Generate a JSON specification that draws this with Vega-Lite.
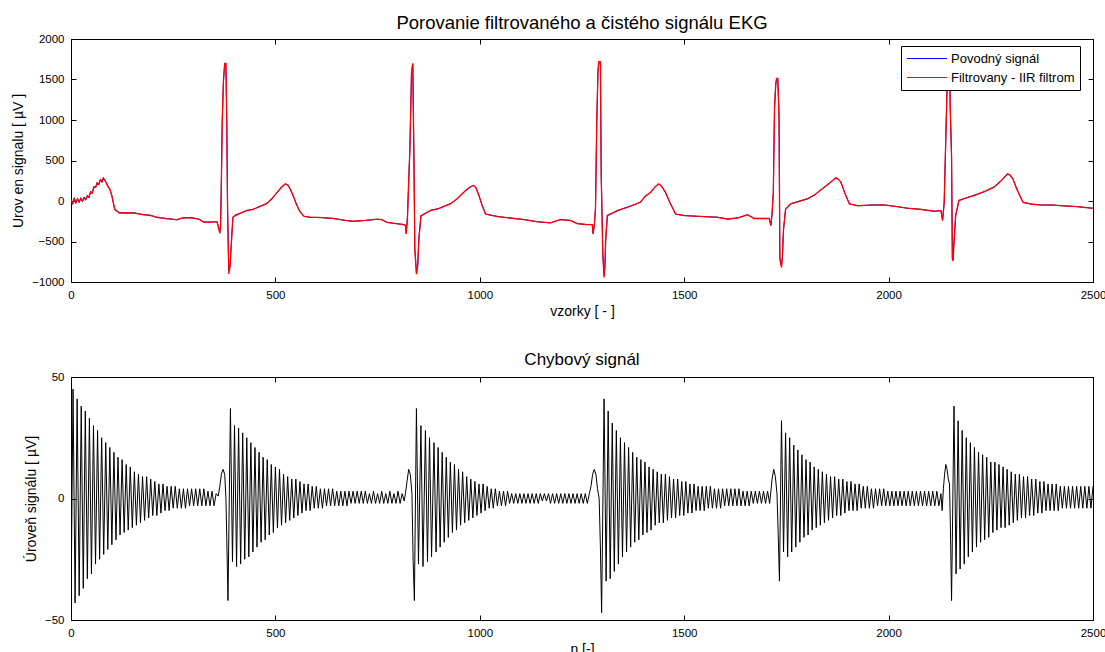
{
"$schema":"https://vega.github.io/schema/vega-lite/v6.json",
"padding":{"left":11,"top":13,"right":0,"bottom":0},
"spacing":31,
"config":{"font":"Liberation Sans","view":{"stroke":"black","strokeWidth":1},
"axis":{"domainColor":"black","tickColor":"black","labelColor":"black","titleColor":"black","labelFont":"Liberation Sans","titleFont":"Liberation Sans","labelFontSize":11.5,"titleFontSize":14,"titleFontWeight":"normal","grid":false,"tickSize":-5,"labelPadding":12,"labelFlush":false,"titlePadding":6,"format":"d"},
"title":{"font":"Liberation Sans","fontSize":17,"fontWeight":"normal","color":"black","frame":"group","anchor":"middle"}},
"datasets":{
"ecg":[
{"n":0,"o":35,"f":20},{"n":4,"o":-40,"f":-30},{"n":8,"o":40,"f":30},{"n":12,"o":-30,"f":-20},{"n":16,"o":30,"f":25},{"n":20,"o":-20,"f":-10},{"n":24,"o":40,"f":30},{"n":28,"o":-10,"f":0},{"n":32,"o":50,"f":40},{"n":36,"o":10,"f":20},{"n":40,"o":70,"f":60},{"n":44,"o":40,"f":50},{"n":48,"o":120,"f":110},{"n":52,"o":90,"f":100},{"n":56,"o":180,"f":170},{"n":60,"o":160,"f":170},{"n":64,"o":230,"f":220},{"n":68,"o":200,"f":210},{"n":72,"o":270,"f":260},{"n":76,"o":230,"f":240},{"n":79,"o":290,"f":280},{"n":84,"o":245,"f":250},{"n":90,"o":190,"f":180},{"n":95,"o":140,"f":150},{"n":100,"o":70,"f":60},{"n":107,"o":-110,"f":-100},{"n":118,"o":-140,"f":-150},{"n":133,"o":-150,"f":-145},{"n":153,"o":-142,"f":-150},{"n":175,"o":-170,"f":-165},{"n":195,"o":-175,"f":-180},{"n":210,"o":-205,"f":-200},{"n":235,"o":-215,"f":-220},{"n":259,"o":-233,"f":-230},{"n":270,"o":-212,"f":-215},{"n":279,"o":-208,"f":-205},{"n":295,"o":-206,"f":-210},{"n":312,"o":-223,"f":-220},{"n":324,"o":-258,"f":-260},{"n":340,"o":-262,"f":-260},{"n":357,"o":-255,"f":-255},{"n":361,"o":-320,"f":-330},{"n":364,"o":-390,"f":-400},{"n":366,"o":-300,"f":-300},{"n":368,"o":290,"f":300},{"n":370,"o":980,"f":1000},{"n":373,"o":1480,"f":1500},{"n":376,"o":1690,"f":1700},{"n":379,"o":1680,"f":1700},{"n":381,"o":1000,"f":1000},{"n":383,"o":-90,"f":-100},{"n":386,"o":-860,"f":-900},{"n":389,"o":-810,"f":-800},{"n":392,"o":-540,"f":-550},{"n":396,"o":-210,"f":-200},{"n":402,"o":-170,"f":-180},{"n":414,"o":-155,"f":-150},{"n":430,"o":-115,"f":-120},{"n":446,"o":-105,"f":-100},{"n":462,"o":-65,"f":-70},{"n":479,"o":-35,"f":-30},{"n":492,"o":35,"f":30},{"n":503,"o":95,"f":100},{"n":515,"o":175,"f":170},{"n":524,"o":212,"f":210},{"n":530,"o":198,"f":200},{"n":536,"o":155,"f":150},{"n":544,"o":55,"f":60},{"n":552,"o":-45,"f":-50},{"n":560,"o":-135,"f":-130},{"n":570,"o":-188,"f":-190},{"n":585,"o":-203,"f":-200},{"n":610,"o":-202,"f":-205},{"n":642,"o":-217,"f":-215},{"n":670,"o":-238,"f":-240},{"n":691,"o":-252,"f":-250},{"n":720,"o":-240,"f":-240},{"n":748,"o":-227,"f":-225},{"n":760,"o":-228,"f":-230},{"n":773,"o":-265,"f":-263},{"n":795,"o":-278,"f":-280},{"n":814,"o":-290,"f":-292},{"n":818,"o":-300,"f":-300},{"n":820,"o":-400,"f":-408},{"n":823,"o":-210,"f":-200},{"n":826,"o":220,"f":233},{"n":829,"o":640,"f":646},{"n":833,"o":1580,"f":1596},{"n":836,"o":1690,"f":1699},{"n":839,"o":490,"f":481},{"n":841,"o":-580,"f":-594},{"n":845,"o":-880,"f":-903},{"n":848,"o":-810,"f":-800},{"n":851,"o":-460,"f":-470},{"n":856,"o":-190,"f":-181},{"n":879,"o":-115,"f":-119},{"n":900,"o":-94,"f":-90},{"n":928,"o":-32,"f":-36},{"n":945,"o":26,"f":30},{"n":961,"o":113,"f":109},{"n":975,"o":166,"f":170},{"n":984,"o":193,"f":191},{"n":990,"o":172,"f":170},{"n":998,"o":63,"f":67},{"n":1006,"o":-56,"f":-60},{"n":1014,"o":-163,"f":-160},{"n":1043,"o":-190,"f":-193},{"n":1075,"o":-212,"f":-210},{"n":1108,"o":-228,"f":-230},{"n":1140,"o":-256,"f":-255},{"n":1173,"o":-270,"f":-271},{"n":1187,"o":-246,"f":-245},{"n":1197,"o":-229,"f":-230},{"n":1222,"o":-241,"f":-240},{"n":1238,"o":-278,"f":-280},{"n":1260,"o":-291,"f":-290},{"n":1275,"o":-290,"f":-292},{"n":1277,"o":-400,"f":-408},{"n":1280,"o":-310,"f":-300},{"n":1283,"o":-90,"f":-98},{"n":1286,"o":920,"f":934},{"n":1289,"o":1590,"f":1600},{"n":1291,"o":1700,"f":1720},{"n":1295,"o":1710,"f":1720},{"n":1297,"o":330,"f":315},{"n":1301,"o":-660,"f":-677},{"n":1304,"o":-920,"f":-944},{"n":1306,"o":-810,"f":-800},{"n":1308,"o":-480,"f":-470},{"n":1312,"o":-175,"f":-181},{"n":1336,"o":-123,"f":-119},{"n":1360,"o":-76,"f":-80},{"n":1380,"o":-44,"f":-40},{"n":1393,"o":-12,"f":-15},{"n":1405,"o":64,"f":60},{"n":1418,"o":105,"f":109},{"n":1430,"o":184,"f":180},{"n":1438,"o":210,"f":212},{"n":1445,"o":183,"f":180},{"n":1454,"o":105,"f":109},{"n":1466,"o":-26,"f":-30},{"n":1479,"o":-163,"f":-160},{"n":1500,"o":-179,"f":-181},{"n":1540,"o":-192,"f":-190},{"n":1581,"o":-199,"f":-201},{"n":1606,"o":-223,"f":-222},{"n":1630,"o":-211,"f":-210},{"n":1655,"o":-170,"f":-168},{"n":1671,"o":-214,"f":-216},{"n":1690,"o":-217,"f":-216},{"n":1708,"o":-215,"f":-216},{"n":1712,"o":-300,"f":-304},{"n":1715,"o":-160,"f":-150},{"n":1718,"o":100,"f":109},{"n":1721,"o":1150,"f":1162},{"n":1724,"o":1440,"f":1450},{"n":1726,"o":1500,"f":1513},{"n":1729,"o":1505,"f":1513},{"n":1732,"o":1050,"f":1038},{"n":1734,"o":-700,"f":-718},{"n":1738,"o":-800,"f":-821},{"n":1740,"o":-710,"f":-700},{"n":1743,"o":-350,"f":-346},{"n":1748,"o":-102,"f":-98},{"n":1761,"o":-32,"f":-36},{"n":1802,"o":30,"f":26},{"n":1820,"o":76,"f":80},{"n":1838,"o":154,"f":150},{"n":1855,"o":216,"f":220},{"n":1871,"o":288,"f":286},{"n":1877,"o":268,"f":270},{"n":1883,"o":236,"f":233},{"n":1893,"o":96,"f":100},{"n":1904,"o":-32,"f":-36},{"n":1924,"o":-60,"f":-57},{"n":1960,"o":-48,"f":-50},{"n":1989,"o":-49,"f":-47},{"n":2020,"o":-68,"f":-70},{"n":2047,"o":-91,"f":-89},{"n":2080,"o":-103,"f":-105},{"n":2112,"o":-128,"f":-126},{"n":2128,"o":-117,"f":-119},{"n":2132,"o":-235,"f":-243},{"n":2136,"o":-25,"f":-15},{"n":2140,"o":780,"f":791},{"n":2143,"o":1390,"f":1400},{"n":2145,"o":1640,"f":1650},{"n":2149,"o":1630,"f":1650},{"n":2151,"o":1110,"f":1100},{"n":2154,"o":560,"f":543},{"n":2156,"o":-700,"f":-718},{"n":2158,"o":-720,"f":-740},{"n":2159,"o":-600,"f":-594},{"n":2164,"o":-185,"f":-181},{"n":2172,"o":9,"f":5},{"n":2190,"o":36,"f":40},{"n":2209,"o":71,"f":67},{"n":2235,"o":116,"f":120},{"n":2258,"o":175,"f":171},{"n":2275,"o":246,"f":250},{"n":2291,"o":332,"f":336},{"n":2297,"o":323,"f":320},{"n":2304,"o":270,"f":274},{"n":2315,"o":134,"f":130},{"n":2329,"o":-19,"f":-15},{"n":2350,"o":-37,"f":-40},{"n":2373,"o":-50,"f":-47},{"n":2400,"o":-48,"f":-50},{"n":2422,"o":-59,"f":-57},{"n":2460,"o":-68,"f":-70},{"n":2495,"o":-87,"f":-89},{"n":2500,"o":-90,"f":-89}
],
"err":[
{"n":0,"e":-45},{"n":5,"e":45},{"n":10,"e":-43},{"n":15,"e":41},{"n":20,"e":-40},{"n":25,"e":38},{"n":30,"e":-37},{"n":35,"e":36},{"n":40,"e":-33},{"n":45,"e":33},{"n":50,"e":-31},{"n":55,"e":30},{"n":60,"e":-27},{"n":65,"e":28},{"n":70,"e":-25},{"n":75,"e":25},{"n":80,"e":-23},{"n":85,"e":23},{"n":90,"e":-21},{"n":95,"e":21},{"n":100,"e":-19},{"n":105,"e":19},{"n":110,"e":-17},{"n":115,"e":17},{"n":120,"e":-15},{"n":125,"e":16},{"n":130,"e":-14},{"n":135,"e":14},{"n":140,"e":-13},{"n":145,"e":13},{"n":150,"e":-12},{"n":155,"e":11},{"n":160,"e":-11},{"n":165,"e":10},{"n":170,"e":-10},{"n":175,"e":9},{"n":180,"e":-9},{"n":185,"e":9},{"n":190,"e":-8},{"n":195,"e":8},{"n":200,"e":-7},{"n":205,"e":7},{"n":210,"e":-7},{"n":215,"e":6},{"n":220,"e":-6},{"n":225,"e":6},{"n":230,"e":-5},{"n":235,"e":5},{"n":240,"e":-5},{"n":245,"e":5},{"n":250,"e":-4},{"n":255,"e":5},{"n":260,"e":-4},{"n":265,"e":4},{"n":270,"e":-4},{"n":275,"e":4},{"n":280,"e":-4},{"n":285,"e":4},{"n":290,"e":-3},{"n":295,"e":4},{"n":300,"e":-3},{"n":305,"e":4},{"n":310,"e":-3},{"n":315,"e":4},{"n":320,"e":-3},{"n":325,"e":4},{"n":330,"e":-3},{"n":335,"e":3},{"n":340,"e":-3},{"n":345,"e":3},{"n":350,"e":-3},{"n":355,"e":2},{"n":360,"e":1},{"n":364,"e":5},{"n":368,"e":10},{"n":372,"e":12},{"n":376,"e":10},{"n":379,"e":0},{"n":381,"e":-16},{"n":384,"e":-42},{"n":390,"e":37},{"n":395,"e":-26},{"n":400,"e":30},{"n":405,"e":-28},{"n":410,"e":29},{"n":415,"e":-27},{"n":420,"e":27},{"n":425,"e":-25},{"n":430,"e":25},{"n":435,"e":-24},{"n":440,"e":23},{"n":445,"e":-22},{"n":450,"e":21},{"n":455,"e":-20},{"n":460,"e":19},{"n":465,"e":-18},{"n":470,"e":17},{"n":475,"e":-17},{"n":480,"e":16},{"n":485,"e":-15},{"n":490,"e":14},{"n":495,"e":-14},{"n":500,"e":13},{"n":505,"e":-12},{"n":510,"e":12},{"n":515,"e":-11},{"n":520,"e":10},{"n":525,"e":-10},{"n":530,"e":9},{"n":535,"e":-9},{"n":540,"e":8},{"n":545,"e":-8},{"n":550,"e":8},{"n":555,"e":-7},{"n":560,"e":7},{"n":565,"e":-6},{"n":570,"e":6},{"n":575,"e":-5},{"n":580,"e":6},{"n":585,"e":-5},{"n":590,"e":5},{"n":595,"e":-4},{"n":600,"e":5},{"n":605,"e":-4},{"n":610,"e":4},{"n":615,"e":-4},{"n":620,"e":4},{"n":625,"e":-3},{"n":630,"e":4},{"n":635,"e":-3},{"n":640,"e":4},{"n":645,"e":-3},{"n":650,"e":3},{"n":655,"e":-3},{"n":660,"e":3},{"n":665,"e":-3},{"n":670,"e":3},{"n":675,"e":-3},{"n":680,"e":3},{"n":685,"e":-2},{"n":690,"e":3},{"n":695,"e":-2},{"n":700,"e":3},{"n":705,"e":-2},{"n":710,"e":3},{"n":715,"e":-2},{"n":720,"e":3},{"n":725,"e":-2},{"n":730,"e":2},{"n":735,"e":-2},{"n":740,"e":3},{"n":745,"e":-2},{"n":750,"e":2},{"n":755,"e":-2},{"n":760,"e":3},{"n":765,"e":-2},{"n":770,"e":2},{"n":775,"e":-2},{"n":780,"e":3},{"n":785,"e":-2},{"n":790,"e":2},{"n":795,"e":-2},{"n":800,"e":3},{"n":805,"e":-2},{"n":810,"e":2},{"n":815,"e":-1},{"n":818,"e":2},{"n":822,"e":7},{"n":826,"e":12},{"n":830,"e":10},{"n":834,"e":2},{"n":837,"e":-26},{"n":840,"e":-42},{"n":845,"e":37},{"n":850,"e":-27},{"n":856,"e":30},{"n":861,"e":-28},{"n":867,"e":28},{"n":872,"e":-26},{"n":877,"e":25},{"n":882,"e":-24},{"n":888,"e":23},{"n":893,"e":-22},{"n":898,"e":21},{"n":903,"e":-20},{"n":908,"e":19},{"n":913,"e":-18},{"n":918,"e":17},{"n":923,"e":-16},{"n":928,"e":15},{"n":933,"e":-14},{"n":938,"e":14},{"n":943,"e":-13},{"n":948,"e":12},{"n":953,"e":-11},{"n":958,"e":11},{"n":963,"e":-10},{"n":968,"e":9},{"n":973,"e":-9},{"n":978,"e":8},{"n":983,"e":-8},{"n":988,"e":7},{"n":993,"e":-7},{"n":998,"e":6},{"n":1003,"e":-6},{"n":1008,"e":6},{"n":1013,"e":-5},{"n":1018,"e":5},{"n":1023,"e":-4},{"n":1028,"e":4},{"n":1033,"e":-4},{"n":1038,"e":4},{"n":1043,"e":-3},{"n":1048,"e":3},{"n":1053,"e":-3},{"n":1058,"e":3},{"n":1063,"e":-3},{"n":1068,"e":3},{"n":1073,"e":-2},{"n":1078,"e":2},{"n":1083,"e":-2},{"n":1088,"e":2},{"n":1093,"e":-2},{"n":1098,"e":2},{"n":1103,"e":-2},{"n":1108,"e":2},{"n":1113,"e":-2},{"n":1118,"e":2},{"n":1123,"e":-2},{"n":1128,"e":2},{"n":1133,"e":-2},{"n":1138,"e":2},{"n":1143,"e":-2},{"n":1148,"e":2},{"n":1153,"e":-1},{"n":1158,"e":2},{"n":1163,"e":-1},{"n":1168,"e":2},{"n":1173,"e":-2},{"n":1178,"e":2},{"n":1183,"e":-2},{"n":1188,"e":2},{"n":1193,"e":-2},{"n":1198,"e":2},{"n":1203,"e":-2},{"n":1208,"e":2},{"n":1213,"e":-2},{"n":1218,"e":2},{"n":1223,"e":-2},{"n":1228,"e":2},{"n":1233,"e":-2},{"n":1238,"e":2},{"n":1243,"e":-2},{"n":1248,"e":2},{"n":1253,"e":-2},{"n":1258,"e":2},{"n":1263,"e":-2},{"n":1268,"e":2},{"n":1272,"e":5},{"n":1276,"e":10},{"n":1280,"e":12},{"n":1284,"e":10},{"n":1288,"e":4},{"n":1292,"e":0},{"n":1295,"e":-20},{"n":1298,"e":-47},{"n":1304,"e":41},{"n":1309,"e":-34},{"n":1314,"e":36},{"n":1319,"e":-33},{"n":1324,"e":31},{"n":1329,"e":-30},{"n":1334,"e":28},{"n":1339,"e":-27},{"n":1344,"e":25},{"n":1349,"e":-24},{"n":1354,"e":23},{"n":1359,"e":-22},{"n":1364,"e":21},{"n":1369,"e":-20},{"n":1374,"e":19},{"n":1379,"e":-18},{"n":1384,"e":17},{"n":1389,"e":-17},{"n":1394,"e":16},{"n":1399,"e":-15},{"n":1404,"e":15},{"n":1409,"e":-14},{"n":1414,"e":13},{"n":1419,"e":-13},{"n":1424,"e":12},{"n":1429,"e":-11},{"n":1434,"e":11},{"n":1439,"e":-10},{"n":1444,"e":10},{"n":1449,"e":-10},{"n":1454,"e":10},{"n":1459,"e":-9},{"n":1464,"e":9},{"n":1469,"e":-8},{"n":1474,"e":8},{"n":1479,"e":-8},{"n":1484,"e":8},{"n":1489,"e":-7},{"n":1494,"e":7},{"n":1499,"e":-7},{"n":1504,"e":7},{"n":1509,"e":-6},{"n":1514,"e":6},{"n":1519,"e":-6},{"n":1524,"e":6},{"n":1529,"e":-5},{"n":1534,"e":5},{"n":1539,"e":-5},{"n":1544,"e":5},{"n":1549,"e":-5},{"n":1554,"e":5},{"n":1559,"e":-4},{"n":1564,"e":5},{"n":1569,"e":-4},{"n":1574,"e":4},{"n":1579,"e":-4},{"n":1584,"e":4},{"n":1589,"e":-4},{"n":1594,"e":4},{"n":1599,"e":-3},{"n":1604,"e":4},{"n":1609,"e":-3},{"n":1614,"e":4},{"n":1619,"e":-3},{"n":1624,"e":4},{"n":1629,"e":-3},{"n":1634,"e":4},{"n":1639,"e":-3},{"n":1644,"e":3},{"n":1649,"e":-3},{"n":1654,"e":3},{"n":1659,"e":-3},{"n":1664,"e":3},{"n":1669,"e":-2},{"n":1674,"e":3},{"n":1679,"e":-2},{"n":1684,"e":3},{"n":1689,"e":-2},{"n":1694,"e":3},{"n":1699,"e":-2},{"n":1704,"e":3},{"n":1709,"e":-2},{"n":1712,"e":3},{"n":1715,"e":8},{"n":1719,"e":12},{"n":1723,"e":9},{"n":1727,"e":2},{"n":1730,"e":-15},{"n":1733,"e":-34},{"n":1738,"e":32},{"n":1743,"e":-22},{"n":1748,"e":27},{"n":1753,"e":-24},{"n":1758,"e":25},{"n":1763,"e":-22},{"n":1768,"e":22},{"n":1773,"e":-20},{"n":1778,"e":20},{"n":1783,"e":-18},{"n":1788,"e":18},{"n":1793,"e":-16},{"n":1798,"e":16},{"n":1803,"e":-15},{"n":1808,"e":15},{"n":1813,"e":-13},{"n":1818,"e":13},{"n":1823,"e":-12},{"n":1828,"e":12},{"n":1833,"e":-11},{"n":1838,"e":11},{"n":1843,"e":-10},{"n":1848,"e":10},{"n":1853,"e":-9},{"n":1858,"e":9},{"n":1863,"e":-8},{"n":1868,"e":9},{"n":1873,"e":-7},{"n":1878,"e":8},{"n":1883,"e":-7},{"n":1888,"e":8},{"n":1893,"e":-6},{"n":1898,"e":7},{"n":1903,"e":-5},{"n":1908,"e":7},{"n":1913,"e":-5},{"n":1918,"e":6},{"n":1923,"e":-5},{"n":1928,"e":6},{"n":1933,"e":-4},{"n":1938,"e":5},{"n":1943,"e":-4},{"n":1948,"e":5},{"n":1953,"e":-4},{"n":1958,"e":4},{"n":1963,"e":-4},{"n":1968,"e":4},{"n":1973,"e":-3},{"n":1978,"e":4},{"n":1983,"e":-3},{"n":1988,"e":4},{"n":1993,"e":-3},{"n":1998,"e":3},{"n":2003,"e":-3},{"n":2008,"e":3},{"n":2013,"e":-3},{"n":2018,"e":3},{"n":2023,"e":-3},{"n":2028,"e":3},{"n":2033,"e":-3},{"n":2038,"e":3},{"n":2043,"e":-3},{"n":2048,"e":3},{"n":2053,"e":-3},{"n":2058,"e":3},{"n":2063,"e":-3},{"n":2068,"e":3},{"n":2073,"e":-3},{"n":2078,"e":3},{"n":2083,"e":-3},{"n":2088,"e":3},{"n":2093,"e":-3},{"n":2098,"e":3},{"n":2103,"e":-3},{"n":2108,"e":3},{"n":2113,"e":-3},{"n":2118,"e":3},{"n":2123,"e":-3},{"n":2128,"e":2},{"n":2131,"e":-5},{"n":2134,"e":4},{"n":2137,"e":10},{"n":2140,"e":14},{"n":2143,"e":12},{"n":2146,"e":8},{"n":2149,"e":6},{"n":2151,"e":-10},{"n":2154,"e":-42},{"n":2160,"e":38},{"n":2165,"e":-31},{"n":2170,"e":32},{"n":2175,"e":-29},{"n":2180,"e":28},{"n":2185,"e":-27},{"n":2190,"e":25},{"n":2195,"e":-24},{"n":2200,"e":23},{"n":2205,"e":-22},{"n":2210,"e":21},{"n":2215,"e":-20},{"n":2220,"e":19},{"n":2225,"e":-18},{"n":2230,"e":18},{"n":2235,"e":-17},{"n":2240,"e":17},{"n":2245,"e":-16},{"n":2250,"e":15},{"n":2255,"e":-14},{"n":2260,"e":15},{"n":2265,"e":-13},{"n":2270,"e":14},{"n":2275,"e":-12},{"n":2280,"e":13},{"n":2285,"e":-12},{"n":2290,"e":12},{"n":2295,"e":-11},{"n":2300,"e":11},{"n":2305,"e":-10},{"n":2310,"e":10},{"n":2315,"e":-9},{"n":2320,"e":10},{"n":2325,"e":-8},{"n":2330,"e":9},{"n":2335,"e":-8},{"n":2340,"e":9},{"n":2345,"e":-7},{"n":2350,"e":8},{"n":2355,"e":-7},{"n":2360,"e":8},{"n":2365,"e":-6},{"n":2370,"e":7},{"n":2375,"e":-6},{"n":2380,"e":7},{"n":2385,"e":-5},{"n":2390,"e":6},{"n":2395,"e":-5},{"n":2400,"e":6},{"n":2405,"e":-5},{"n":2410,"e":6},{"n":2415,"e":-5},{"n":2420,"e":5},{"n":2425,"e":-4},{"n":2430,"e":5},{"n":2435,"e":-4},{"n":2440,"e":5},{"n":2445,"e":-4},{"n":2450,"e":5},{"n":2455,"e":-4},{"n":2460,"e":5},{"n":2465,"e":-4},{"n":2470,"e":5},{"n":2475,"e":-4},{"n":2480,"e":5},{"n":2485,"e":-4},{"n":2490,"e":5},{"n":2495,"e":-4},{"n":2500,"e":5}
]},
"vconcat":[
{"width":1022,"height":243,
"title":{"text":"Porovanie filtrovaného a čistého signálu EKG","offset":1,"fontSize":18.5},
"data":{"name":"ecg"},
"layer":[
{"mark":{"type":"line","strokeWidth":1,"clip":true},
"encoding":{
"x":{"field":"n","type":"quantitative","scale":{"domain":[0,2500],"nice":false,"zero":false},"axis":{"values":[0,500,1000,1500,2000,2500],"title":"vzorky [ - ]","titlePadding":4}},
"y":{"field":"o","type":"quantitative","scale":{"domain":[-1000,2000],"nice":false,"zero":false},"axis":{"values":[-1000,-500,0,500,1000,1500,2000],"title":"Urov en signalu [ µV ]"}},
"color":{"datum":"Povodný signál","type":"nominal","scale":{"domain":["Povodný signál","Filtrovany - IIR filtrom"],"range":["#0000ff","#ff0000"]},
"legend":{"orient":"none","legendX":830,"legendY":7,"title":null,"symbolType":"stroke","symbolSize":1600,"symbolStrokeWidth":1.2,"clipHeight":15,"rowPadding":4,"padding":5,"strokeColor":"black","fillColor":"white","labelFont":"Liberation Sans","labelFontSize":13,"labelColor":"black","labelOffset":3}}}},
{"mark":{"type":"line","strokeWidth":1.3,"clip":true},
"encoding":{
"x":{"field":"n","type":"quantitative","scale":{"domain":[0,2500],"nice":false,"zero":false},"axis":{"orient":"top","labels":false,"title":null,"values":[0,500,1000,1500,2000,2500]}},
"y":{"field":"f","type":"quantitative","scale":{"domain":[-1000,2000],"nice":false,"zero":false},"axis":{"orient":"right","labels":false,"title":null,"values":[-1000,-500,0,500,1000,1500,2000]}},
"color":{"datum":"Filtrovany - IIR filtrom","type":"nominal"}}}
],
"resolve":{"scale":{"x":"independent","y":"independent"}}
},
{"width":1022,"height":243,
"title":{"text":"Chybový signál","offset":2},
"data":{"name":"err"},
"layer":[
{"mark":{"type":"line","strokeWidth":1,"color":"black","clip":true},
"encoding":{
"x":{"field":"n","type":"quantitative","scale":{"domain":[0,2500],"nice":false,"zero":false},"axis":{"values":[0,500,1000,1500,2000,2500],"title":"n [-]","titlePadding":4}},
"y":{"field":"e","type":"quantitative","scale":{"domain":[-50,50],"nice":false,"zero":false},"axis":{"values":[-50,0,50],"title":"Úroveň signálu [ µV]"}}}},
{"mark":{"type":"line","opacity":0},
"encoding":{
"x":{"field":"n","type":"quantitative","scale":{"domain":[0,2500],"nice":false,"zero":false},"axis":{"orient":"top","labels":false,"title":null,"values":[0,500,1000,1500,2000,2500]}},
"y":{"field":"e","type":"quantitative","scale":{"domain":[-50,50],"nice":false,"zero":false},"axis":{"orient":"right","labels":false,"title":null,"values":[-50,0,50]}}}}
],
"resolve":{"scale":{"x":"independent","y":"independent"}}
}
]
}
